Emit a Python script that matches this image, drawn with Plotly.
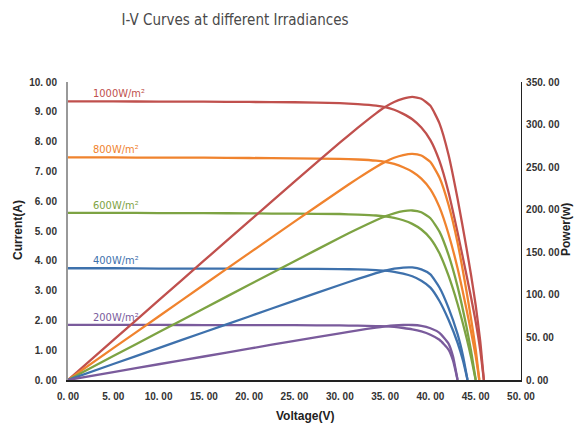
import plotly.graph_objects as go

# ---- data ----
labels = ["1000W/m²", "800W/m²", "600W/m²", "400W/m²", "200W/m²"]
colors = ["#C0504D", "#F0832E", "#7DA343", "#3E71AC", "#7A5B9C"]

v_1000 = [0, 5, 10, 15, 20, 25, 30, 32, 34, 35, 36, 37, 38, 39, 40, 41, 42, 43, 44, 44.5, 45, 45.5, 45.9]
i_1000 = [9.35, 9.35, 9.34, 9.34, 9.33, 9.32, 9.29, 9.26, 9.21, 9.16, 9.07, 8.93, 8.75, 8.47, 8.05, 7.35,
          6.3, 4.95, 3.5, 2.75, 1.95, 1.0, 0]
p_1000 = [0, 46.8, 93.4, 140.1, 186.6, 233, 278.7, 296.3, 313.1, 320.6, 326.5, 330.4, 332.5, 330.3, 322,
          301.4, 264.6, 212.9, 154, 122.4, 87.8, 45.5, 0]

v_800 = [0, 5, 10, 15, 20, 25, 30, 32, 34, 35, 36, 37, 38, 39, 40, 41, 42, 43, 44, 44.5, 45, 45.4]
i_800 = [7.47, 7.47, 7.46, 7.46, 7.45, 7.44, 7.42, 7.40, 7.36, 7.32, 7.25, 7.14, 6.99, 6.76, 6.40, 5.80,
         4.90, 3.75, 2.35, 1.6, 0.8, 0]
p_800 = [0, 37.4, 74.6, 111.9, 149, 186, 222.6, 236.8, 250.2, 256.2, 261, 264.2, 265.6, 263.6, 256,
         237.8, 205.8, 161.3, 103.4, 71.2, 36, 0]

v_600 = [0, 5, 10, 15, 20, 25, 30, 32, 34, 35, 36, 37, 38, 39, 40, 41, 42, 43, 44, 44.5, 45.0]
i_600 = [5.61, 5.61, 5.60, 5.60, 5.59, 5.58, 5.57, 5.55, 5.52, 5.49, 5.44, 5.36, 5.24, 5.05, 4.75, 4.25,
         3.5, 2.55, 1.4, 0.75, 0]
p_600 = [0, 28.1, 56, 84, 111.8, 139.5, 167.1, 177.6, 187.7, 192.2, 195.8, 198.3, 199.1, 197, 190,
         174.3, 147, 109.7, 61.6, 33.4, 0]

v_400 = [0, 5, 10, 15, 20, 25, 30, 32, 34, 35, 36, 37, 38, 39, 40, 41, 42, 43, 43.6, 44.1]
i_400 = [3.75, 3.75, 3.74, 3.74, 3.73, 3.73, 3.72, 3.71, 3.69, 3.67, 3.63, 3.57, 3.48, 3.33, 3.10, 2.65,
         2.02, 1.25, 0.65, 0]
p_400 = [0, 18.8, 37.4, 56.1, 74.6, 93.3, 111.6, 118.7, 125.5, 128.5, 130.7, 132.1, 132.2, 129.9, 124,
         108.7, 84.8, 53.8, 28.3, 0]

v_200 = [0, 5, 10, 15, 20, 25, 30, 32, 34, 35, 36, 37, 38, 39, 40, 41, 42, 42.5, 43]
i_200 = [1.85, 1.85, 1.85, 1.84, 1.84, 1.84, 1.83, 1.825, 1.81, 1.80, 1.78, 1.745, 1.70, 1.63, 1.52, 1.35,
         1.02, 0.65, 0]
p_200 = [0, 9.25, 18.5, 27.6, 36.8, 46, 54.9, 58.4, 61.5, 63, 64.1, 64.6, 64.6, 63.6, 60.8, 55.4, 42.8,
         27.6, 0]

volts = [v_1000, v_800, v_600, v_400, v_200]
currents = [i_1000, i_800, i_600, i_400, i_200]
powers = [p_1000, p_800, p_600, p_400, p_200]
isc = [9.35, 7.47, 5.61, 3.75, 1.85]

x_ticks = [0, 5, 10, 15, 20, 25, 30, 35, 40, 45, 50]
y_ticks = [0, 1, 2, 3, 4, 5, 6, 7, 8, 9, 10]
y2_ticks = [0, 50, 100, 150, 200, 250, 300, 350]


def fmt(v):
    return f"{v:.2f}".replace(".", ". ")


W, H = 577, 425
L, R, T, B = 68, 56, 82, 45
plot_w = W - L - R
plot_h = H - T - B

fig = go.Figure()
line_kw = dict(width=2.3, shape="spline", smoothing=0.5)
for v, i, p, c in zip(volts, currents, powers, colors):
    fig.add_trace(go.Scatter(x=v, y=i, mode="lines", line=dict(color=c, **line_kw),
                             showlegend=False, hoverinfo="skip"))
    fig.add_trace(go.Scatter(x=v, y=p, mode="lines", yaxis="y2", line=dict(color=c, **line_kw),
                             showlegend=False, hoverinfo="skip"))

label_font = "DejaVu Sans Condensed, Liberation Sans Narrow, Arial"
for lab, c, y in zip(labels, colors, isc):
    fig.add_annotation(x=2.5, y=y, xref="x", yref="y", text=lab, showarrow=False,
                       xanchor="left", yanchor="bottom", yshift=-1,
                       font=dict(family=label_font, size=11, color=c))

axis_title_font = dict(family="Liberation Sans, Arial", size=12, color="#222222", weight="bold")
fig.add_annotation(x=(18 - L) / plot_w, y=(H - B - 230) / plot_h, xref="paper", yref="paper",
                   text="Current(A)", showarrow=False, textangle=-90, xanchor="center", yanchor="middle",
                   font=axis_title_font)
fig.add_annotation(x=(305 - L) / plot_w, y=(H - B - 416) / plot_h, xref="paper", yref="paper",
                   text="Voltage(V)", showarrow=False, xanchor="center", yanchor="middle",
                   font=axis_title_font)
fig.add_annotation(x=(566 - L) / plot_w, y=(H - B - 230) / plot_h, xref="paper", yref="paper",
                   text="Power(w)", showarrow=False, textangle=-90, xanchor="center", yanchor="middle",
                   font=axis_title_font)

tickfont = dict(family="Liberation Sans, Arial", size=10, color="#333333", weight="bold")

fig.update_layout(
    width=W, height=H,
    margin=dict(l=L, r=R, t=T, b=B, autoexpand=False),
    paper_bgcolor="white", plot_bgcolor="white",
    title=dict(text="I-V Curves at different Irradiances", x=235 / W, xanchor="center", y=1 - 20 / H,
               yanchor="middle",
               font=dict(family="DejaVu Sans Condensed, Liberation Sans Narrow, Arial", size=15,
                         color="#4a4a4a")),
    xaxis=dict(range=[0, 50], tickvals=x_ticks, ticktext=[fmt(t) for t in x_ticks], showgrid=False,
               zeroline=False, showline=True, linecolor="#222222", linewidth=1.5, ticks="",
               tickfont=tickfont, automargin=False, ticklabelstandoff=6),
    yaxis=dict(range=[0, 10], tickvals=y_ticks, ticktext=[fmt(t) for t in y_ticks], showgrid=False,
               zeroline=False, showline=True, linecolor="#999999", linewidth=2, ticks="",
               tickfont=tickfont, automargin=False, ticklabelstandoff=7),
    yaxis2=dict(range=[0, 350], tickvals=y2_ticks, ticktext=[fmt(t) for t in y2_ticks], overlaying="y",
                side="right", showgrid=False, zeroline=False, showline=True, linecolor="#222222", linewidth=1.2,
                ticks="", tickfont=tickfont, automargin=False, ticklabelstandoff=2),
)

fig.write_html("out.html", config={"displayModeBar": False},
               post_script="document.body.style.margin='0';document.body.style.overflow='hidden';")
